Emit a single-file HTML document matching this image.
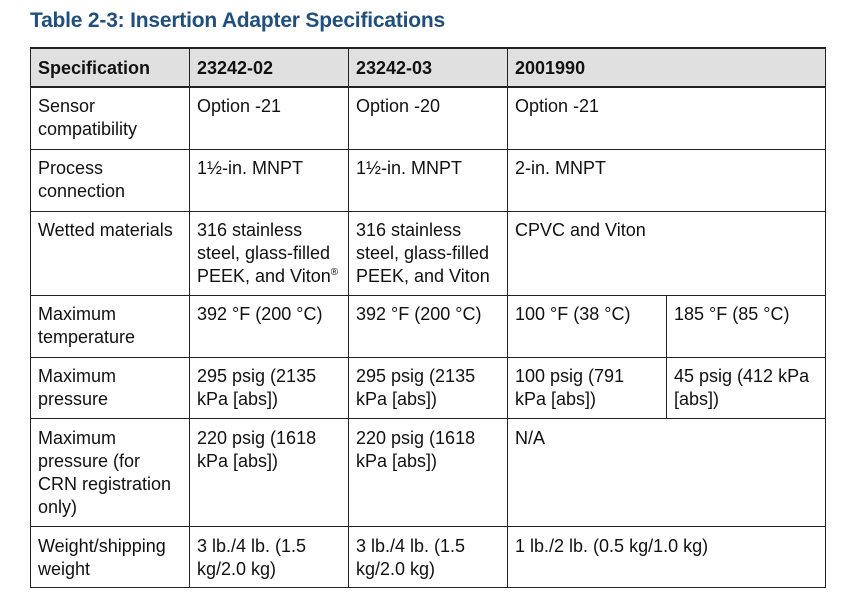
<!DOCTYPE html>
<html><head><style>
body{margin:0;width:848px;height:612px;background:#fff;position:relative;font-family:"Liberation Sans",sans-serif;overflow:hidden}
.t{position:absolute;left:30px;top:9px;font-size:21px;font-weight:bold;color:#1f4f7f;letter-spacing:-0.2px}
.h{position:absolute;left:30px;top:48px;width:795px;height:39px;background:#e0e0e0}
.l{position:absolute;background:#222}
.c{position:absolute;font-size:18px;line-height:23px;color:#111}
.b{font-weight:bold}
</style></head><body>
<div class="t">Table 2-3: Insertion Adapter Specifications</div>
<div class="h"></div>
<div class="l" style="left:30px;top:47px;width:796px;height:2px"></div>
<div class="l" style="left:30px;top:86px;width:796px;height:2px"></div>
<div class="l" style="left:30px;top:149px;width:796px;height:1px"></div>
<div class="l" style="left:30px;top:211px;width:796px;height:1px"></div>
<div class="l" style="left:30px;top:295px;width:796px;height:1px"></div>
<div class="l" style="left:30px;top:357px;width:796px;height:1px"></div>
<div class="l" style="left:30px;top:418px;width:796px;height:1px"></div>
<div class="l" style="left:30px;top:526px;width:796px;height:1px"></div>
<div class="l" style="left:30px;top:587px;width:796px;height:1px"></div>
<div class="l" style="left:30px;top:47px;width:1px;height:541px"></div>
<div class="l" style="left:189px;top:47px;width:1px;height:541px"></div>
<div class="l" style="left:348px;top:47px;width:1px;height:541px"></div>
<div class="l" style="left:507px;top:47px;width:1px;height:541px"></div>
<div class="l" style="left:825px;top:47px;width:1px;height:541px"></div>
<div class="l" style="left:666px;top:295px;width:1px;height:124px"></div>

<div class="c b" style="left:38px;top:57px">Specification</div>
<div class="c b" style="left:197px;top:57px">23242-02</div>
<div class="c b" style="left:356px;top:57px">23242-03</div>
<div class="c b" style="left:515px;top:57px">2001990</div>

<div class="c" style="left:38px;top:95px">Sensor<br>compatibility</div>
<div class="c" style="left:197px;top:95px">Option -21</div>
<div class="c" style="left:356px;top:95px">Option -20</div>
<div class="c" style="left:515px;top:95px">Option -21</div>

<div class="c" style="left:38px;top:157px">Process<br>connection</div>
<div class="c" style="left:197px;top:157px">1½-in. MNPT</div>
<div class="c" style="left:356px;top:157px">1½-in. MNPT</div>
<div class="c" style="left:515px;top:157px">2-in. MNPT</div>

<div class="c" style="left:38px;top:219px">Wetted materials</div>
<div class="c" style="left:197px;top:219px">316 stainless<br>steel, glass-filled<br>PEEK, and Viton<sup style="font-size:10px;line-height:0">®</sup></div>
<div class="c" style="left:356px;top:219px">316 stainless<br>steel, glass-filled<br>PEEK, and Viton</div>
<div class="c" style="left:515px;top:219px">CPVC and Viton</div>

<div class="c" style="left:38px;top:303px">Maximum<br>temperature</div>
<div class="c" style="left:197px;top:303px">392 °F (200 °C)</div>
<div class="c" style="left:356px;top:303px">392 °F (200 °C)</div>
<div class="c" style="left:515px;top:303px">100 °F (38 °C)</div>
<div class="c" style="left:674px;top:303px">185 °F (85 °C)</div>

<div class="c" style="left:38px;top:365px">Maximum<br>pressure</div>
<div class="c" style="left:197px;top:365px">295 psig (2135<br>kPa [abs])</div>
<div class="c" style="left:356px;top:365px">295 psig (2135<br>kPa [abs])</div>
<div class="c" style="left:515px;top:365px">100 psig (791<br>kPa [abs])</div>
<div class="c" style="left:674px;top:365px">45 psig (412 kPa<br>[abs])</div>

<div class="c" style="left:38px;top:427px">Maximum<br>pressure (for<br>CRN registration<br>only)</div>
<div class="c" style="left:197px;top:427px">220 psig (1618<br>kPa [abs])</div>
<div class="c" style="left:356px;top:427px">220 psig (1618<br>kPa [abs])</div>
<div class="c" style="left:515px;top:427px">N/A</div>

<div class="c" style="left:38px;top:535px">Weight/shipping<br>weight</div>
<div class="c" style="left:197px;top:535px">3 lb./4 lb. (1.5<br>kg/2.0 kg)</div>
<div class="c" style="left:356px;top:535px">3 lb./4 lb. (1.5<br>kg/2.0 kg)</div>
<div class="c" style="left:515px;top:535px">1 lb./2 lb. (0.5 kg/1.0 kg)</div>
</body></html>
